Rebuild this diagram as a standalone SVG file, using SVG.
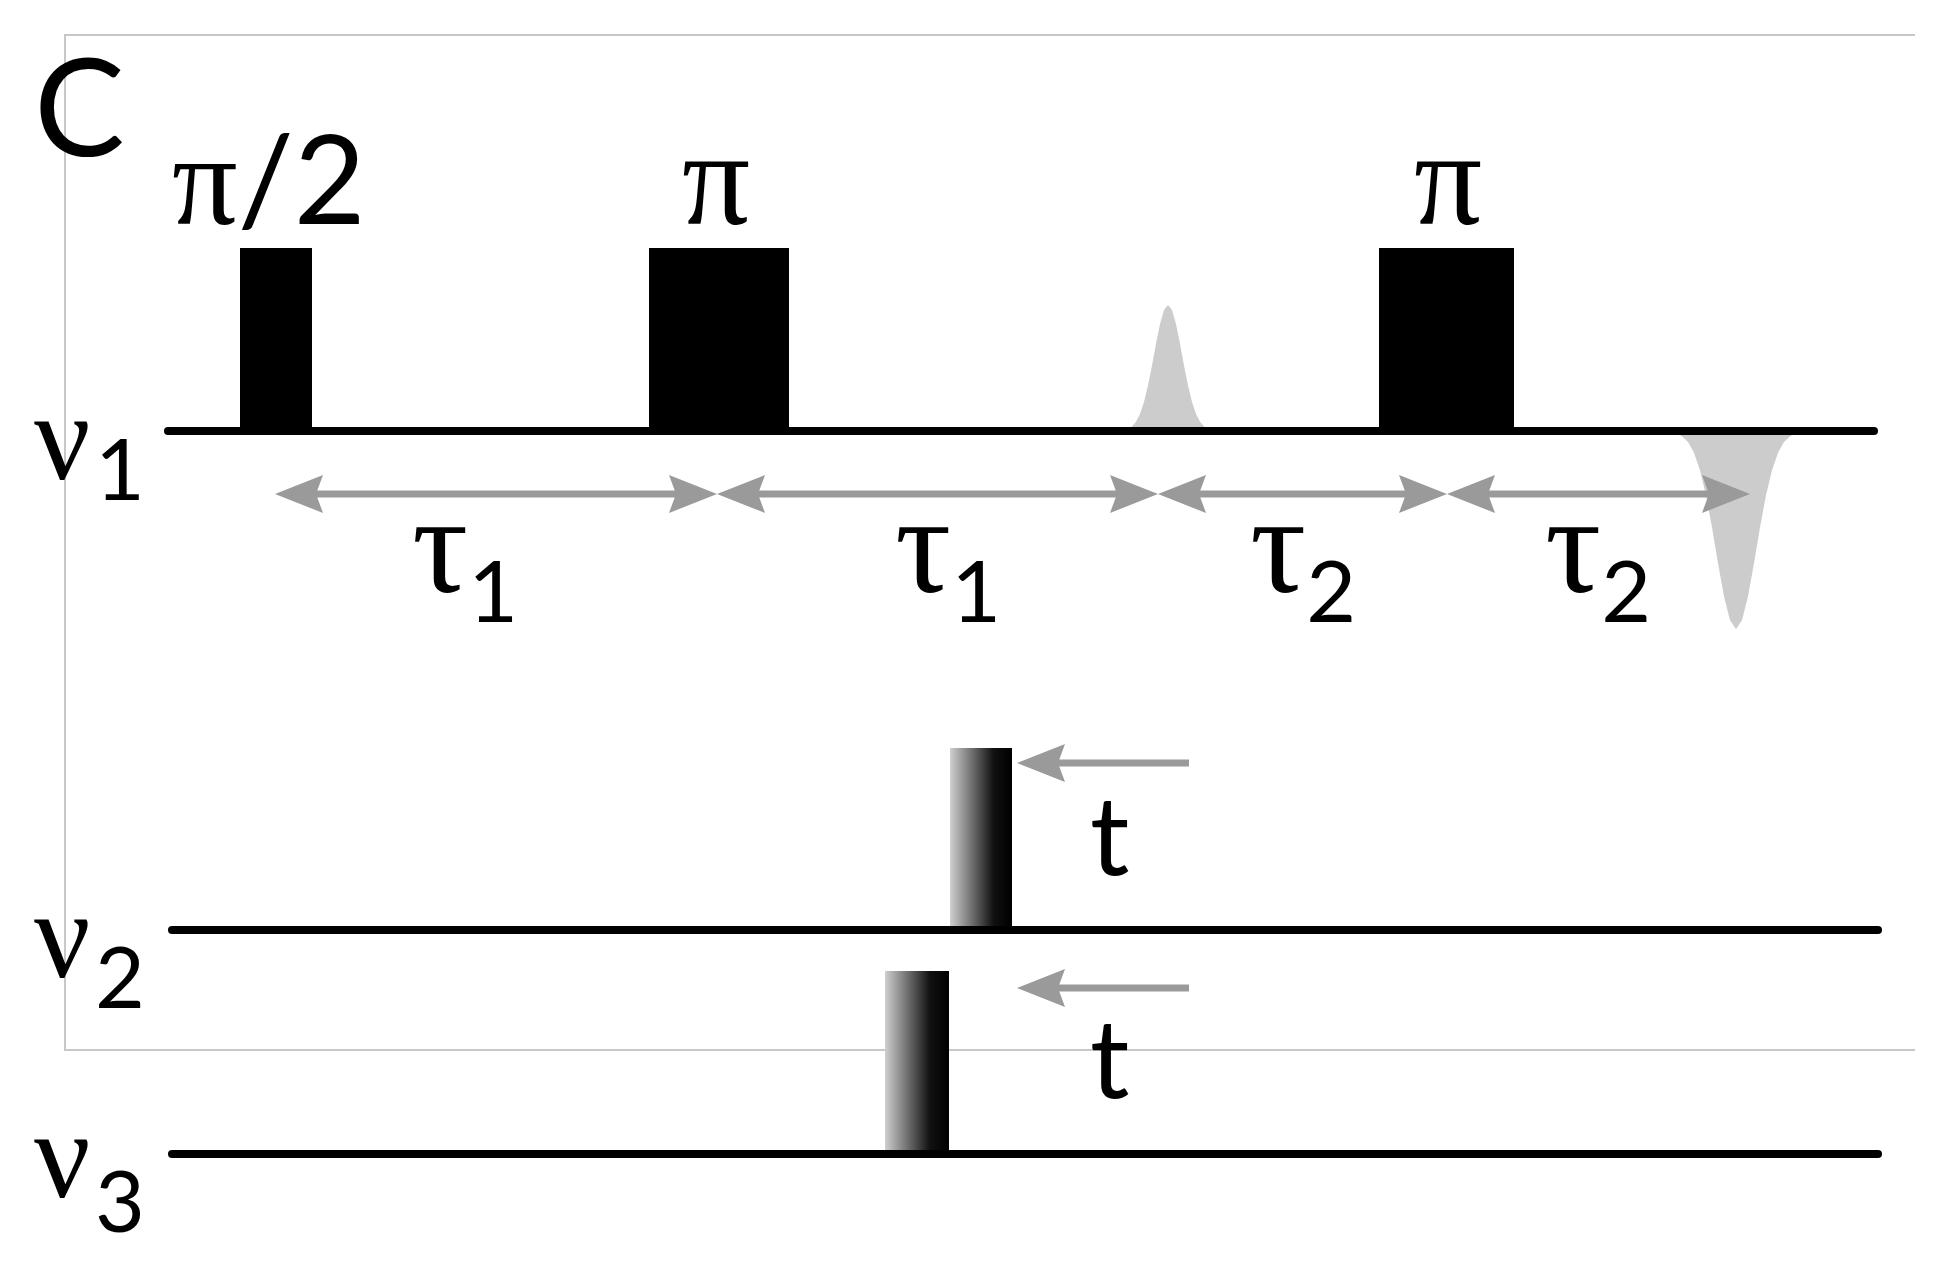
<svg xmlns="http://www.w3.org/2000/svg" width="1952" height="1268" viewBox="0 0 1952 1268">
<style>
.frame{stroke:#c8c8c8;stroke-width:2;fill:none}
.axis{stroke:#000;stroke-width:8;stroke-linecap:round}
.pulse{fill:#000}
.dim{stroke:#9a9a9a;stroke-width:7;fill:none}
.echo{fill:#cccccc}
.sym{font-family:"Liberation Serif","DejaVu Serif",serif;fill:#000}
.lbl{font-family:Lato,"Open Sans",sans-serif;fill:#000}
</style>
<defs>
<marker id="ah" viewBox="0 0 48 38" refX="28" refY="19" markerWidth="48" markerHeight="38" markerUnits="userSpaceOnUse" orient="auto-start-reverse">
<path d="M0 0 L48 19 L0 38 L7 19 Z" fill="#9a9a9a"/>
</marker>
<linearGradient id="grad" x1="0" y1="0" x2="1" y2="0">
<stop offset="0" stop-color="#cfcfcf"/>
<stop offset="0.7" stop-color="#111"/>
<stop offset="1" stop-color="#000"/>
</linearGradient>
</defs>
<g id="frame">
<polyline class="frame" points="1915,35 65,35 65,1050 1915,1050"/>
</g>
<g id="panel-label"><text class="lbl" x="34" y="156" font-size="136">C</text></g>
<g id="channel-v1">
<path id="echo-up" class="echo" d="M1124 432 L1124 430.1 L1128 428.9 L1132 426.4 L1136 421.8 L1140 413.9 L1144 402 L1148 385.6 L1152 365.4 L1156 343.7 L1160 324 L1164 310 L1168 305 L1172 310 L1176 324 L1180 343.7 L1184 365.4 L1188 385.6 L1192 402 L1196 413.9 L1200 421.8 L1204 426.4 L1208 428.9 L1212 430.1 L1212 432 Z"/>
<path id="echo-down" class="echo" d="M1676 430 L1676 433.2 L1682 436.2 L1688 442.1 L1694 452.8 L1700 470.2 L1706 495.3 L1712 527.4 L1718 563.1 L1724 596.4 L1730 620.3 L1736 629 L1742 620.3 L1748 596.4 L1754 563.1 L1760 527.4 L1766 495.3 L1772 470.2 L1778 452.8 L1784 442.1 L1790 436.2 L1796 433.2 L1796 430 Z"/>
<rect class="pulse" x="240" y="248" width="72" height="183"/>
<rect class="pulse" x="649" y="248" width="140" height="183"/>
<rect class="pulse" x="1379" y="248" width="135" height="183"/>
<line class="axis" x1="168" y1="431" x2="1874" y2="431"/>
<text class="sym" x="172" y="224" font-size="130">π<tspan class="lbl" font-size="124">/2</tspan></text>
<text class="sym" x="716" y="224" font-size="135" text-anchor="middle">π</text>
<text class="sym" x="1448" y="224" font-size="135" text-anchor="middle">π</text>
<text class="sym" x="34" y="479" font-size="125">ν<tspan class="lbl" x="95" y="500" font-size="86">1</tspan></text>
</g>
<g id="connectors">
<line class="dim" x1="295" y1="494" x2="697" y2="494" marker-start="url(#ah)" marker-end="url(#ah)"/>
<line class="dim" x1="737" y1="494" x2="1138" y2="494" marker-start="url(#ah)" marker-end="url(#ah)"/>
<line class="dim" x1="1178" y1="494" x2="1427" y2="494" marker-start="url(#ah)" marker-end="url(#ah)"/>
<line class="dim" x1="1467" y1="494" x2="1730" y2="494" marker-start="url(#ah)" marker-end="url(#ah)"/>
<line class="dim" x1="1189" y1="763" x2="1037" y2="763" marker-end="url(#ah)"/>
<line class="dim" x1="1189" y1="988" x2="1037" y2="988" marker-end="url(#ah)"/>
</g>
<g id="tau-labels">
<text class="sym" x="412" y="592" font-size="140">τ<tspan class="lbl" dy="30" font-size="86">1</tspan></text>
<text class="sym" x="895" y="592" font-size="140">τ<tspan class="lbl" dy="30" font-size="86">1</tspan></text>
<text class="sym" x="1250" y="592" font-size="140">τ<tspan class="lbl" dy="30" font-size="86">2</tspan></text>
<text class="sym" x="1545" y="592" font-size="140">τ<tspan class="lbl" dy="30" font-size="86">2</tspan></text>
</g>
<g id="channel-v2">
<rect fill="url(#grad)" x="950" y="748" width="62" height="183"/>
<line class="axis" x1="172" y1="930" x2="1878" y2="930"/>
<text class="lbl" x="1090" y="875" font-size="110">t</text>
<text class="sym" x="34" y="977" font-size="125">ν<tspan class="lbl" x="95" y="1008" font-size="86">2</tspan></text>
</g>
<g id="channel-v3">
<rect fill="url(#grad)" x="885" y="971" width="64" height="183"/>
<line class="axis" x1="172" y1="1154" x2="1878" y2="1154"/>
<text class="lbl" x="1090" y="1098" font-size="110">t</text>
<text class="sym" x="34" y="1197" font-size="125">ν<tspan class="lbl" x="95" y="1232" font-size="86">3</tspan></text>
</g>
</svg>
